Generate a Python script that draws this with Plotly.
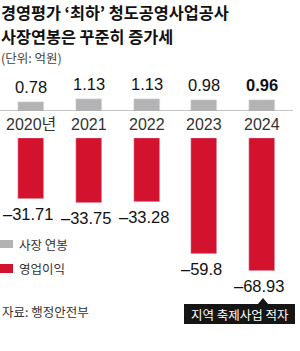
import plotly.graph_objects as go

years = ["2020년", "2021", "2022", "2023", "2024"]
salary = [0.78, 1.13, 1.13, 0.98, 0.96]
profit = [-31.71, -33.75, -33.28, -59.8, -68.93]

title_lines = ["경영평가 ‘최하’ 청도공영사업공사", "사장연봉은 꾸준히 증가세"]
unit_text = "(단위: 억원)"
legend_names = ["사장 연봉", "영업이익"]
source_text = "자료: 행정안전부"
callout_text = "지역 축제사업 적자"

W, H = 300, 351
GRAY = "#b3b3b3"
RED = "#d3122d"
NUM = "Liberation Sans Narrow, Arial, Liberation Sans, sans-serif"
KR = "Noto Sans CJK KR, sans-serif"
NUMKR = "Liberation Sans Narrow, Liberation Sans, Noto Sans CJK KR, sans-serif"


def px(p):
    return p / W


def py(p):
    return 1 - p / H


xs = list(range(len(years)))

fig = go.Figure()
fig.add_trace(go.Bar(x=xs, y=salary, marker_color=GRAY, width=0.45,
                     xaxis="x", yaxis="y", showlegend=False, hoverinfo="skip"))
fig.add_trace(go.Bar(x=xs, y=profit, marker_color=RED, width=0.45,
                     xaxis="x", yaxis="y2", showlegend=False, hoverinfo="skip"))

ann = []
# title
for line, yc in zip(title_lines, [12.0, 35.8]):
    ann.append(dict(text="<b>" + line + "</b>", x=0, y=py(yc), xref="paper", yref="paper",
                    xanchor="left", yanchor="middle", align="left", showarrow=False,
                    borderpad=0, font=dict(family=KR, size=16.3, color="#111")))
ann.append(dict(text=unit_text, x=0, y=py(57.8), xref="paper", yref="paper",
                xanchor="left", yanchor="middle", showarrow=False, borderpad=0,
                font=dict(family=KR, size=12.5, color="#444")))
# value labels
for i, v in enumerate(salary):
    txt = f"{v:.2f}"
    if i == len(salary) - 1:
        txt = "<b>" + txt + "</b>"
    ann.append(dict(text=txt, x=i, y=v, xref="x", yref="y", xanchor="center",
                    yanchor="bottom", yshift=4, showarrow=False,
                    font=dict(family=NUM, size=16.5, color="#111")))
for i, v in enumerate(profit):
    txt = ("–" + f"{abs(v):g}")
    ann.append(dict(text=txt, x=i, y=v, xref="x", yref="y2", xanchor="center",
                    yanchor="top", yshift=-4, xshift=-3, showarrow=False,
                    font=dict(family=NUM, size=16.5, color="#111")))
# year labels
for i, yl in enumerate(years):
    ann.append(dict(text=yl, x=i, y=py(124.5), xref="x", yref="paper", xanchor="center",
                    yanchor="middle", showarrow=False,
                    font=dict(family=NUMKR, size=16, color="#333")))
# legend
for name, yc in zip(legend_names, [244, 268.5]):
    ann.append(dict(text=name, x=px(17), y=py(yc), xref="paper", yref="paper",
                    xanchor="left", yanchor="middle", showarrow=False,
                    font=dict(family=KR, size=12.5, color="#333")))
ann.append(dict(text=source_text, x=0, y=py(311), xref="paper", yref="paper",
                xanchor="left", yanchor="middle", showarrow=False,
                font=dict(family=KR, size=12.5, color="#333")))
ann.append(dict(text=callout_text, x=px(239.5), y=py(314), xref="paper", yref="paper",
                xanchor="center", yanchor="middle", showarrow=False,
                font=dict(family=KR, size=12.5, color="#fff")))

shapes = [
    dict(type="line", xref="paper", yref="y", x0=0, x1=px(293), y0=0, y1=0,
         line=dict(color="#8a8a8a", width=1)),
    dict(type="rect", xref="paper", yref="paper", x0=0, x1=px(13), y0=py(240), y1=py(248),
         fillcolor=GRAY, line=dict(width=0)),
    dict(type="rect", xref="paper", yref="paper", x0=0, x1=px(13), y0=py(264), y1=py(273),
         fillcolor=RED, line=dict(width=0)),
    dict(type="rect", xref="paper", yref="paper", x0=px(184), x1=px(295), y0=py(304), y1=py(324),
         fillcolor="#151515", line=dict(width=0)),
    dict(type="path", xref="paper", yref="paper",
         path=f"M {px(257.5)} {py(304.5)} L {px(263)} {py(298)} L {px(268.5)} {py(304.5)} Z",
         fillcolor="#151515", line=dict(width=0)),
]

fig.update_layout(
    width=W, height=H, margin=dict(l=0, r=0, t=0, b=0),
    paper_bgcolor="white", plot_bgcolor="white",
    xaxis=dict(range=[-0.537, 4.658], visible=False, fixedrange=True),
    yaxis=dict(range=[0, 51 / 11], domain=[py(111), py(60)], visible=False),
    yaxis2=dict(range=[-162 / 1.935, 0], domain=[py(300), py(138)], visible=False, anchor="x"),
    annotations=ann, shapes=shapes, bargap=0, showlegend=False,
)

fig.write_html("out.html")
